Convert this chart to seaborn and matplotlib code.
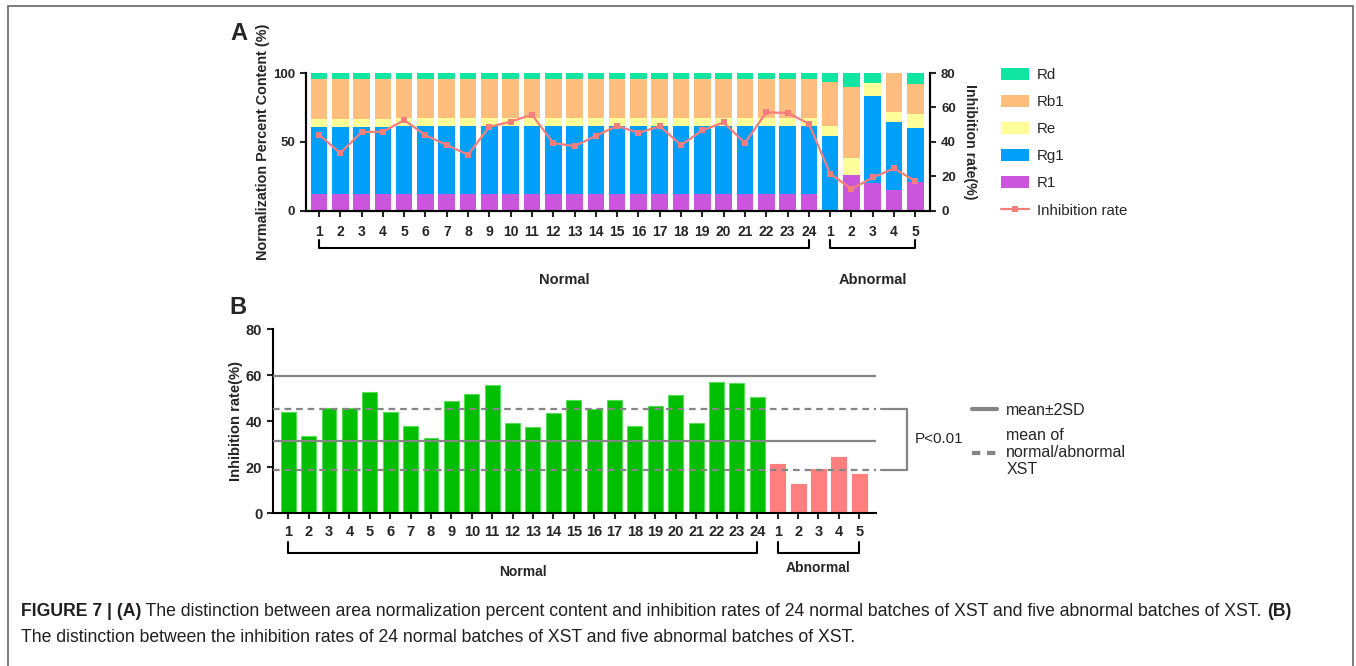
import numpy as np
import pandas as pd
import seaborn as sns
import matplotlib
matplotlib.use('Agg')
import matplotlib.pyplot as plt
import matplotlib.transforms as mtransforms
from matplotlib.lines import Line2D
from matplotlib.patches import Patch, Rectangle

# ---- data ----
normal_labels = [str(i) for i in range(1, 25)]
abnormal_labels = ['1', '2', '3', '4', '5']
batch_labels = normal_labels + abnormal_labels

# panel A: area normalization percent content (%) of each saponin
r1 = [12.2, 12.2, 12.1, 12.2, 12.3, 12.2, 12.1, 12.2, 12.3, 12.2, 12.2, 12.3,
      12.2, 12.1, 12.2, 12.3, 12.2, 12.2, 12.1, 12.2, 12.3, 12.2, 12.2, 12.3,
      0.0, 25.7, 20.1, 15.0, 20.9]
rg1 = [48.6, 48.7, 48.8, 48.7, 49.4, 49.3, 49.5, 49.3, 49.2, 49.4, 49.3, 49.2,
       49.4, 49.5, 49.3, 49.2, 49.3, 49.4, 49.4, 49.2, 49.1, 49.3, 49.3, 49.2,
       54.4, 0.0, 63.4, 49.6, 39.1]
re = [5.9, 5.8, 5.8, 5.9, 5.6, 5.7, 5.6, 5.7, 5.7, 5.6, 5.7, 5.7,
      5.6, 5.6, 5.7, 5.7, 5.6, 5.6, 5.7, 5.8, 5.8, 5.6, 5.7, 5.7,
      7.3, 12.4, 9.2, 7.0, 10.1]
rb1 = [29.1, 29.1, 29.1, 29.0, 28.6, 28.7, 28.6, 28.6, 28.6, 28.7, 28.6, 28.6,
       28.6, 28.7, 28.6, 28.6, 28.7, 28.6, 28.6, 28.6, 28.6, 28.7, 28.6, 28.6,
       32.0, 51.9, 0.0, 28.4, 21.6]
rd = [4.2, 4.2, 4.2, 4.2, 4.1, 4.1, 4.2, 4.2, 4.2, 4.1, 4.2, 4.2,
      4.2, 4.1, 4.2, 4.2, 4.2, 4.2, 4.2, 4.2, 4.2, 4.2, 4.2, 4.2,
      6.3, 10.0, 7.3, 0.0, 8.3]

# inhibition rate (%) of each batch
inhibition = [44.2, 33.5, 45.7, 45.9, 52.6, 43.9, 38.1, 32.6, 48.7, 51.7, 55.8, 39.3,
              37.5, 43.5, 49.3, 45.2, 49.1, 38.1, 46.7, 51.3, 39.3, 57.1, 56.8, 50.6,
              21.6, 12.6, 19.3, 24.6, 17.1]
groups = ['Normal'] * 24 + ['Abnormal'] * 5

# panel B reference lines
sd_lines = [59.6, 31.4]          # mean +/- 2SD of normal batches
mean_lines = [45.5, 19.0]        # mean of normal / abnormal batches
p_text = 'P<0.01'

components = ['R1', 'Rg1', 'Re', 'Rb1', 'Rd']
comp_values = [r1, rg1, re, rb1, rd]
comp_colors = {'R1': '#CC55DD', 'Rg1': '#00A0FA', 'Re': '#FFFF99',
               'Rb1': '#FFBE7D', 'Rd': '#10E6A2'}
line_color = '#F47E7E'
green = '#00BE00'
pink = '#FF7F7F'
ref_gray = '#858585'

sns.set_theme(style='ticks')
plt.rcParams['font.family'] = ['Liberation Sans', 'DejaVu Sans']
plt.rcParams['axes.linewidth'] = 1.5
plt.rcParams['axes.edgecolor'] = 'black'

W, H = 1356, 666
fig = plt.figure(figsize=(W / 100, H / 100), dpi=100)


def px_axes(left, top, right, bottom):
    return fig.add_axes([left / W, 1 - bottom / H, (right - left) / W, (bottom - top) / H])


pos = np.arange(len(batch_labels))

# ---------------- panel A ----------------
axA = px_axes(306, 73, 930, 210.7)
tops = np.cumsum(np.array(comp_values), axis=0)
for k in range(len(components) - 1, -1, -1):
    sns.barplot(x=pos, y=tops[k], color=comp_colors[components[k]], width=0.78,
                saturation=1, linewidth=0, ax=axA)
axA.set_xlim(-0.61, 28.69)
axA.set_ylim(0, 100)
axA.set_yticks([0, 50, 100])
axA.set_xticks(pos)
axA.set_xticklabels(batch_labels)
axA.set_xlabel('')
axA.set_ylabel('Normalization Percent Content (%)', fontsize=10.4, fontweight='bold')
axA.yaxis.set_label_coords(-0.058, 0.5)
axA.spines['top'].set_visible(False)
axA.tick_params(axis='x', length=4.5, width=1.5, labelsize=10, pad=6)
axA.tick_params(axis='y', length=4.5, width=1.5, labelsize=9.5)

axA2 = axA.twinx()
sns.lineplot(x=pos, y=inhibition, ax=axA2, color=line_color, linewidth=1.6,
             marker='s', markersize=4.5, markeredgewidth=0)
axA2.set_ylim(0, 80)
axA2.set_yticks([0, 20, 40, 60, 80])
axA2.set_xlim(-0.61, 28.69)
axA2.spines['top'].set_visible(False)
axA2.tick_params(axis='y', length=4.5, width=1.5, labelsize=9.5)
axA2.set_ylabel('Inhibition rate(%)', fontsize=10.2, fontweight='bold', rotation=270)
axA2.yaxis.set_label_coords(1.075, 0.5)

for ax in (axA, axA2):
    for lab in ax.get_xticklabels() + ax.get_yticklabels():
        lab.set_fontweight('bold')

trA = mtransforms.blended_transform_factory(axA.transData, axA.transAxes)
for x0, x1 in [(0, 23), (24, 28)]:
    axA.plot([x0, x0, x1, x1], [-0.215, -0.272, -0.272, -0.215], color='black',
             lw=1.5, transform=trA, clip_on=False)
axA.text(11.5, -0.505, 'Normal', transform=trA, ha='center', va='center',
         fontsize=10.5, fontweight='bold')
axA.text(26, -0.505, 'Abnormal', transform=trA, ha='center', va='center',
         fontsize=10.5, fontweight='bold')

legA_handles = [Patch(facecolor=comp_colors[c], edgecolor='none') for c in components[::-1]]
legA_handles.append(Line2D([], [], color=line_color, lw=1.6, marker='s',
                           markersize=4.5, markeredgewidth=0))
fig.legend(legA_handles, components[::-1] + ['Inhibition rate'], loc='upper left',
           bbox_to_anchor=(1001 / W, 1 - 68 / H), frameon=False, fontsize=10.8,
           handlelength=1.85, handleheight=0.85, handletextpad=0.55,
           labelspacing=0.86, borderpad=0, borderaxespad=0)

# ---------------- panel B ----------------
axB = px_axes(273.3, 329.3, 876, 513.3)
df_b = pd.DataFrame({'pos': pos, 'rate': inhibition, 'group': groups})
sns.barplot(data=df_b, x='pos', y='rate', hue='group', dodge=False, width=0.73,
            palette={'Normal': green, 'Abnormal': pink}, saturation=1,
            linewidth=0.8, legend=False, ax=axB)
for bar in axB.patches:
    fc = bar.get_facecolor()
    bar.set_edgecolor('#55E055' if fc[1] > 0.6 and fc[0] < 0.3 else pink)
axB.set_xlim(-0.73, 28.82)
axB.set_ylim(0, 80)
axB.set_yticks([0, 20, 40, 60, 80])
axB.set_xticks(pos)
axB.set_xticklabels(batch_labels)
axB.set_xlabel('')
axB.set_ylabel('Inhibition rate(%)', fontsize=10.6, fontweight='bold')
axB.yaxis.set_label_coords(-0.050, 0.5)
axB.spines['top'].set_visible(False)
axB.spines['right'].set_visible(False)
axB.tick_params(axis='x', length=4.5, width=1.5, labelsize=10.5, pad=4)
axB.tick_params(axis='y', length=4.5, width=1.5, labelsize=10.5)
for lab in axB.get_xticklabels() + axB.get_yticklabels():
    lab.set_fontweight('bold')

for yv in sd_lines:
    axB.axhline(yv, color=ref_gray, lw=1.6, zorder=3)
for yv in mean_lines:
    axB.axhline(yv, color=ref_gray, lw=1.6, ls=(0, (3, 2.2)), zorder=3)

trB = mtransforms.blended_transform_factory(axB.transAxes, axB.transData)
axB.plot([1.008, 1.051, 1.051, 1.008], [mean_lines[0], mean_lines[0], mean_lines[1], mean_lines[1]],
         color=ref_gray, lw=1.6, transform=trB, clip_on=False)
axB.text(1.065, (mean_lines[0] + mean_lines[1]) / 2, p_text, transform=trB,
         ha='left', va='center', fontsize=11)

trB2 = mtransforms.blended_transform_factory(axB.transData, axB.transAxes)
for x0, x1 in [(0, 23), (24, 28)]:
    axB.plot([x0, x0, x1, x1], [-0.155, -0.217, -0.217, -0.155], color='black',
             lw=1.5, transform=trB2, clip_on=False)
axB.text(11.5, -0.318, 'Normal', transform=trB2, ha='center', va='center',
         fontsize=10, fontweight='bold')
axB.text(26, -0.298, 'Abnormal', transform=trB2, ha='center', va='center',
         fontsize=10, fontweight='bold')

legB_handles = [Line2D([], [], color=ref_gray, lw=3),
                Line2D([], [], color=ref_gray, lw=3, ls=(0, (2, 1.6)))]
fig.legend(legB_handles, ['mean\u00b12SD', 'mean of\nnormal/abnormal\nXST'],
           loc='upper left', bbox_to_anchor=(972 / W, 1 - 403 / H), frameon=False,
           fontsize=11.5, handlelength=1.55, handletextpad=0.6, labelspacing=0.6,
           borderpad=0, borderaxespad=0)

# panel letters
fig.text(239 / W, 1 - 34 / H, 'A', ha='center', va='center', fontsize=17, fontweight='bold')
fig.text(238 / W, 1 - 308 / H, 'B', ha='center', va='center', fontsize=17, fontweight='bold')

# frame around the figure
fig.add_artist(Rectangle((8 / W, -0.02), (1352.5 - 8) / W, 1 - 6 / H + 0.02,
                         transform=fig.transFigure, fill=False, edgecolor='#666666', lw=1.2))

# caption, mixed bold / regular runs
renderer = fig.canvas.get_renderer()
cap_size = 12.7
line1 = [('FIGURE 7 | (A)', 'bold'),
         (' The distinction between area normalization percent content and inhibition rates of 24 '
          'normal batches of XST and five abnormal batches of XST. ', 'normal'),
         ('(B)', 'bold')]
x = 21 / W
for s, wgt in line1:
    t = fig.text(x, 1 - 612 / H, s, ha='left', va='center', fontsize=cap_size,
                 fontweight=wgt, color='#231F20')
    x = t.get_window_extent(renderer).x1 / W
fig.text(21 / W, 1 - 637 / H,
         'The distinction between the inhibition rates of 24 normal batches of XST and five abnormal batches of XST.',
         ha='left', va='center', fontsize=cap_size, color='#231F20')

fig.savefig('out.png', dpi=100)
